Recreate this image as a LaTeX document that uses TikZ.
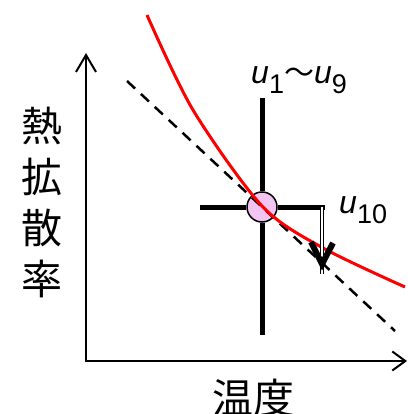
\documentclass[tikz,border=0pt]{standalone}
\usepackage{fontspec}
\setmainfont{Liberation Sans}
\newfontfamily\jpfont{Noto Sans CJK JP}
\usetikzlibrary{arrows.meta}
\definecolor{ptpink}{RGB}{242,196,242}

\newcommand{\uvar}[1]{\textit{u}\raisebox{-10pt}{\fontsize{27}{27}\selectfont #1}}

\begin{document}
\begin{tikzpicture}[x=1pt, y=-1pt,
    axis/.style={line width=2pt, line join=miter,
        {Straight Barb[length=17pt,width=20pt]}-{Straight Barb[length=13pt,width=19pt]}},
    curve/.style={red, line width=3pt},
    tangent/.style={black, line width=2.5pt, dash pattern=on 11pt off 8pt},
    cross/.style={black, line width=5pt},
    shaft/.style={double, double distance=1.5pt, line width=1.5pt},
    head/.style={black, line width=6pt, line join=miter},
    pt/.style={draw, circle, fill=ptpink, line width=1.5pt, minimum size=30pt, inner sep=0pt},
    jp/.style={font=\jpfont\fontsize{41}{51}\selectfont, inner sep=0pt, align=center},
    ulabel/.style={font=\fontsize{32}{32}\selectfont, inner sep=0pt}]

    \useasboundingbox (0,0) rectangle (407,414);

    % axes
    \coordinate (o) at (86,361);
    \coordinate (ytip) at (86,53);
    \coordinate (xtip) at (407,361);
    \draw [axis] (ytip) -- (o) -- (xtip);

    % operating point and its cross
    \node [pt] (p) at (262,207) {};
    \coordinate (vtop) at (262,98);
    \coordinate (vbot) at (262,335);
    \coordinate (hleft) at (200,207);
    \coordinate (hright) at (322,207);
    \coordinate (tip) at (322,264);

    \draw [cross] (vtop) -- (p.north);
    \draw [cross] (p.south) -- (vbot);
    \draw [cross] (hleft) -- (p.west);
    \draw [cross] (p.east) -- ([xshift=2.5pt]hright);

    % tangent and curve
    \coordinate (t1) at (127,81);
    \coordinate (t2) at (395,331);
    \draw [tangent] (t1) -- (t2);
    \draw [curve] plot [smooth] coordinates {(147,15) (193,110) (262,206) (323,248) (405,287)};

    % step to u_10
    \draw [shaft] (hright) -- ([yshift=-10pt]tip);
    \draw [head] ([shift={(-11,-22)}]tip) -- (tip) -- ([shift={(11,-21)}]tip);

    % labels
    \node [ulabel, anchor=base west] (u19) at (251,84) {\uvar{1}{\jpfont\fontsize{30}{30}\selectfont 〜}\uvar{9}};
    \node [ulabel, anchor=base west] (u10) at (339,213) {\uvar{10}};
    \node [jp] (ylab) at (42,202) {熱\\拡\\散\\率};
    \node [jp] (xlab) at (253,398) {温度};

\end{tikzpicture}
\end{document}
